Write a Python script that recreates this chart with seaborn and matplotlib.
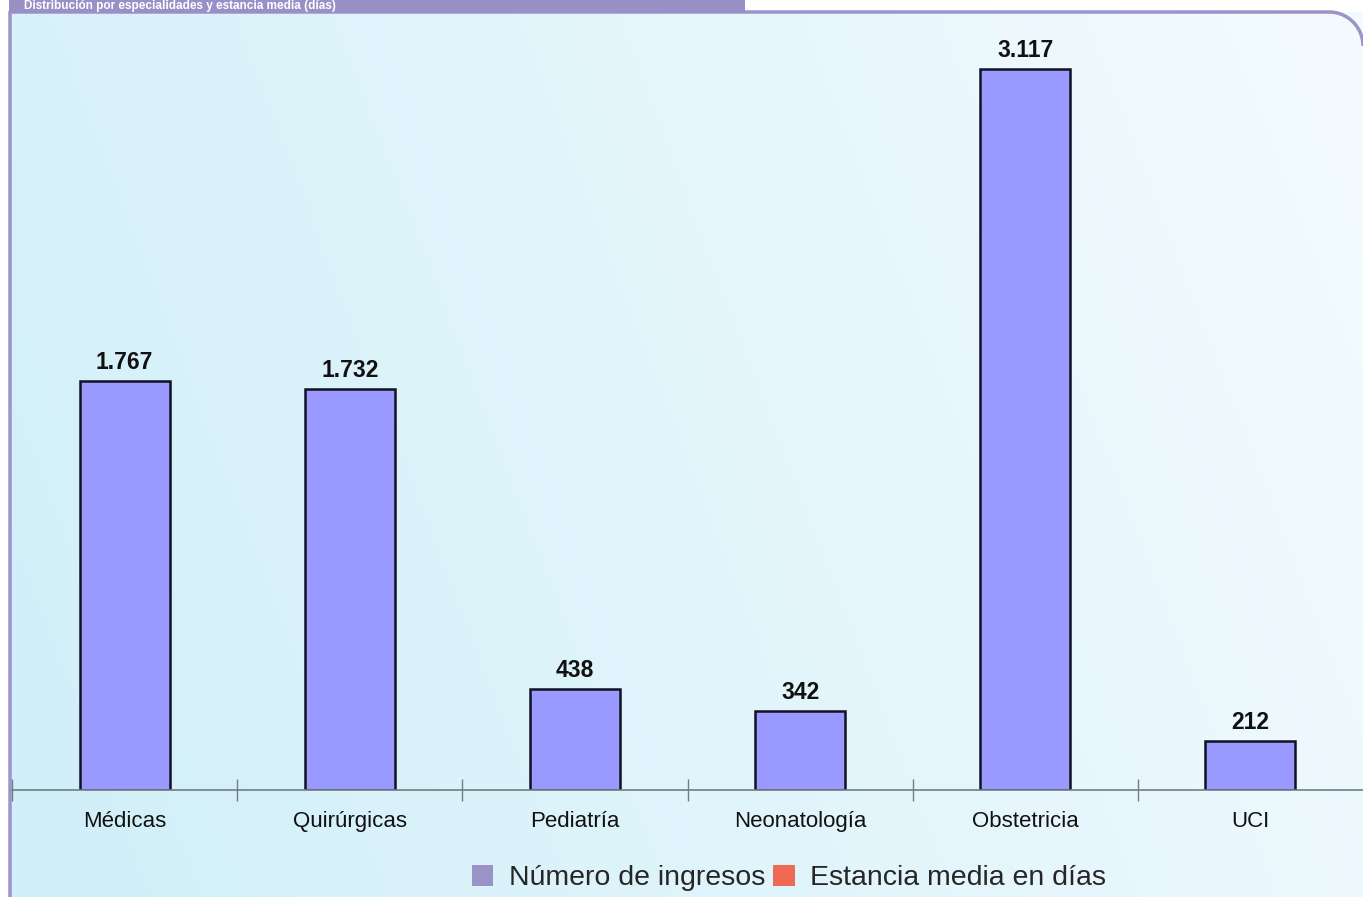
import numpy as np
import matplotlib
matplotlib.use("Agg")
import matplotlib.pyplot as plt
from matplotlib.patches import Patch, Rectangle
import seaborn as sns

# ---- data ----
categorias = ["Médicas", "Quirúrgicas", "Pediatría", "Neonatología", "Obstetricia", "UCI"]
ingresos = [1767, 1732, 438, 342, 3117, 212]
series = ["Número de ingresos", "Estancia media en días"]
titulo = "Distribución por especialidades y estancia media (días)"

W, H = 1363, 897
sns.set_theme(style="white")
plt.rcParams['font.family'] = ['Liberation Sans', 'DejaVu Sans']

fig = plt.figure(figsize=(W / 100, H / 100), dpi=100)
fig.patch.set_facecolor("white")

# ---- background decoration (pixel coords) ----
bg = fig.add_axes([0, 0, 1, 1])
bg.set_xlim(0, W)
bg.set_ylim(H, 0)
bg.axis("off")
yy, xx = np.mgrid[0:H:4, 0:W:4]
t = np.clip(0.8 * xx / W + 0.2 * (1 - yy / H), 0, 1)
c0 = np.array([208, 239, 249]) / 255
c1 = np.array([244, 251, 254]) / 255
img = c0[None, None, :] * (1 - t[..., None]) + c1[None, None, :] * t[..., None]
bg.imshow(img, extent=[10, W, H, 12], aspect="auto", zorder=0)
border = "#9B93C9"
# panel border with rounded top-right corner
r = 34
theta = np.linspace(np.pi / 2, 0, 30)
px = [10, 10, W - r] + list(W - r + r * np.cos(theta))
py = [H, 12, 12] + list(12 + r - r * np.sin(theta))
bg.plot(px, py, color=border, lw=2.5, zorder=2, solid_capstyle="butt")
bg.add_patch(Rectangle((9, -5), 736, 18, facecolor="#9990C8", edgecolor="none", zorder=3))
bg.text(24, 6, titulo, color="white", fontsize=8.5, fontweight="bold",
        ha="left", va="center", zorder=4)

# ---- main chart ----
ax = fig.add_axes([12 / W, 1 - 790 / H, 1 - 12 / W, (790 - 12) / H])
ax.patch.set_alpha(0)
sns.barplot(x=categorias, y=ingresos, color="#9999FF", saturation=1, width=0.4,
            edgecolor="#111122", linewidth=1.8, ax=ax)
ax.set_xlim(-0.5, 5.5)
ax.set_ylim(0, 3363)
for s in ["top", "right", "left"]:
    ax.spines[s].set_visible(False)
ax.spines["bottom"].set_color("#6f7f84")
ax.spines["bottom"].set_linewidth(1.2)
ax.set_yticks([])
ax.set_xlabel("")
ax.set_ylabel("")
ax.set_xticks(np.arange(-0.5, 5.5, 1), minor=False)
ax.set_xticklabels([])
ax.set_xticks(np.arange(len(categorias)), minor=True)
ax.set_xticklabels(categorias, minor=True, fontsize=16, color="#111111")
ax.tick_params(axis="x", which="major", direction="inout", length=16, width=1, color="#6f7f84", bottom=True)
ax.tick_params(axis="x", which="minor", length=0, pad=15)

labels = [f"{v:,}".replace(",", ".") for v in ingresos]
ax.bar_label(ax.containers[0], labels=labels, padding=5, fontsize=16.5,
             fontweight="bold", color="#111111")

# ---- legend ----
handles = [Patch(facecolor="#9A93C8", edgecolor="none"),
           Patch(facecolor="#EE6A50", edgecolor="none")]
fig.legend(handles, series, loc="center", bbox_to_anchor=(789 / W, 1 - 878 / H),
           ncol=2, frameon=False, fontsize=20.5, handlelength=0.75, handleheight=0.75,
           handletextpad=0.55, columnspacing=0.3)

fig.savefig("out.png", dpi=100)
